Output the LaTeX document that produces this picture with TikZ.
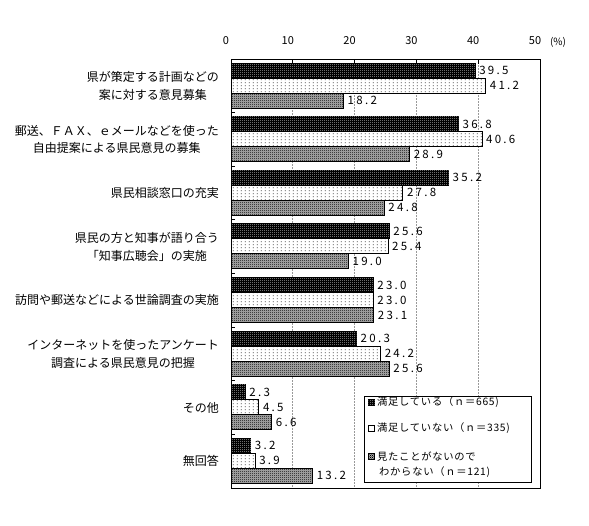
\documentclass[tikz,border=0pt]{standalone}
\usepackage{fontspec}
\setmainfont{Noto Sans CJK JP}
\newfontfamily\numfont{Noto Sans CJK JP}[LetterSpace=20]
\newfontfamily\legfont{Noto Sans CJK JP}[LetterSpace=7]
\usetikzlibrary{patterns}
\pgfdeclarepatternformonly{sdots}{\pgfpointorigin}{\pgfpoint{4pt}{3pt}}{\pgfpoint{4pt}{3pt}}{\pgfpathrectangle{\pgfpoint{1pt}{1pt}}{\pgfpoint{1pt}{1pt}}\pgfusepath{fill}}
\pgfdeclarepatternformonly{wdots}{\pgfpointorigin}{\pgfpoint{2pt}{2pt}}{\pgfpoint{2pt}{2pt}}{\pgfpathrectangle{\pgfpointorigin}{\pgfpoint{0.9pt}{0.9pt}}\pgfusepath{fill}}
\pgfdeclarepatternformonly{checker}{\pgfpointorigin}{\pgfpoint{2pt}{2pt}}{\pgfpoint{2pt}{2pt}}{\pgfpathrectangle{\pgfpointorigin}{\pgfpoint{1pt}{1pt}}\pgfpathrectangle{\pgfpoint{1pt}{1pt}}{\pgfpoint{1pt}{1pt}}\pgfusepath{fill}}
\tikzset{
  barA/.style={draw=black, line width=0.8pt, fill=black, postaction={pattern=wdots, pattern color=white}},
  barB/.style={draw=black, line width=0.8pt, fill=white, postaction={pattern=sdots, pattern color=black}},
  barC/.style={draw=black, line width=0.8pt, fill=black!30, postaction={pattern=checker, pattern color=black}},
  val/.style={anchor=west, inner sep=0pt, font=\numfont\fontsize{11.5pt}{11.5pt}\selectfont},
  cat/.style={anchor=east, inner sep=0pt, align=center, font=\fontsize{12pt}{17.5pt}\selectfont},
  axl/.style={inner sep=0pt, font=\fontsize{11pt}{11pt}\selectfont},
  leg/.style={anchor=west, inner sep=0pt, font=\legfont\fontsize{10.3pt}{10.3pt}\selectfont},
  grid/.style={draw=black!40, line width=0.7pt, dash pattern=on 2pt off 1pt},
}
\begin{document}
\begin{tikzpicture}[x=1pt, y=-1pt]
\useasboundingbox (0,0) rectangle (589,525);
\fill[white] (0,0) rectangle (589,525);
% gridlines
\foreach \k in {1,2,3,4} {
  \draw[grid] ({231+61.8*\k},59) -- ({231+61.8*\k},488);
  \draw[black, line width=0.8pt] ({231+61.8*\k},59) -- ({231+61.8*\k},64);
}
% axis labels
\foreach \k in {0,1,2,3,4,5} {
  \pgfmathtruncatemacro\lab{10*\k}
  \node[axl] (ax\k) at ({226+61.8*\k},41) {\lab};
}
\node[axl, font=\fontsize{10pt}{10pt}\selectfont] (pct) at (558,42) {(\%)};
% left ticks
\foreach \i in {1,...,7} {
  \draw[black, line width=0.8pt] (231,{59+53.6*\i}) -- (235,{59+53.6*\i});
}
% bars
\foreach \i/\a/\b/\c in {0/39.5/41.2/18.2, 1/36.8/40.6/28.9, 2/35.2/27.8/24.8, 3/25.6/25.4/19.0, 4/23.0/23.0/23.1, 5/20.3/24.2/25.6, 6/2.3/4.5/6.6, 7/3.2/3.9/13.2} {
  \pgfmathsetmacro\yt{59+53.6*\i+4}
  \draw[barA] (231,\yt) rectangle ({231+6.18*\a},{\yt+15});
  \draw[barB] (231,{\yt+15}) rectangle ({231+6.18*\b},{\yt+30});
  \draw[barC] (231,{\yt+30}) rectangle ({231+6.18*\c},{\yt+45});
  \node[val] (va\i) at ({231+6.18*\a+4},{\yt+7.5}) {\a};
  \node[val] (vb\i) at ({231+6.18*\b+4},{\yt+22.5}) {\b};
  \node[val] (vc\i) at ({231+6.18*\c+4},{\yt+37.5}) {\c};
}
% category labels
\foreach \i/\t in {0/{県が策定する計画などの\\案に対する意見募集},
  1/{郵送、ＦＡＸ、ｅメールなどを使った\\自由提案による県民意見の募集},
  2/{県民相談窓口の充実},
  3/{県民の方と知事が語り合う\\「知事広聴会」の実施},
  4/{訪問や郵送などによる世論調査の実施},
  5/{インターネットを使ったアンケート\\調査による県民意見の把握},
  6/{その他},
  7/{無回答}} {
  \node[cat] (c\i) at (219,{59+53.6*\i+27}) {\t};
}
% legend
\draw[black, line width=0.8pt, fill=white] (364,396) rectangle (531,482);
\node[draw=black, line width=0.6pt, fill=black, postaction={pattern=wdots, pattern color=white}, minimum size=6pt, inner sep=0pt] (ma) at (371.5,402.5) {};
\node[draw=black, line width=0.6pt, fill=white, minimum size=6pt, inner sep=0pt] (mb) at (371.5,428.5) {};
\node[draw=black, line width=0.6pt, fill=black!30, postaction={pattern=checker, pattern color=black}, minimum size=6pt, inner sep=0pt] (mc) at (371.5,456.5) {};
\node[leg] (la) at (377,402.5) {満足している（ｎ＝665)};
\node[leg] (lb) at (377,428.5) {満足していない（ｎ＝335)};
\node[leg] (lc) at (377,456.5) {見たことがないので};
\node[leg] (ld) at (379,472.5) {わからない（ｎ＝121)};
% frame
\draw[black, line width=1pt] (231,59) rectangle (540,488);
\end{tikzpicture}
\end{document}
